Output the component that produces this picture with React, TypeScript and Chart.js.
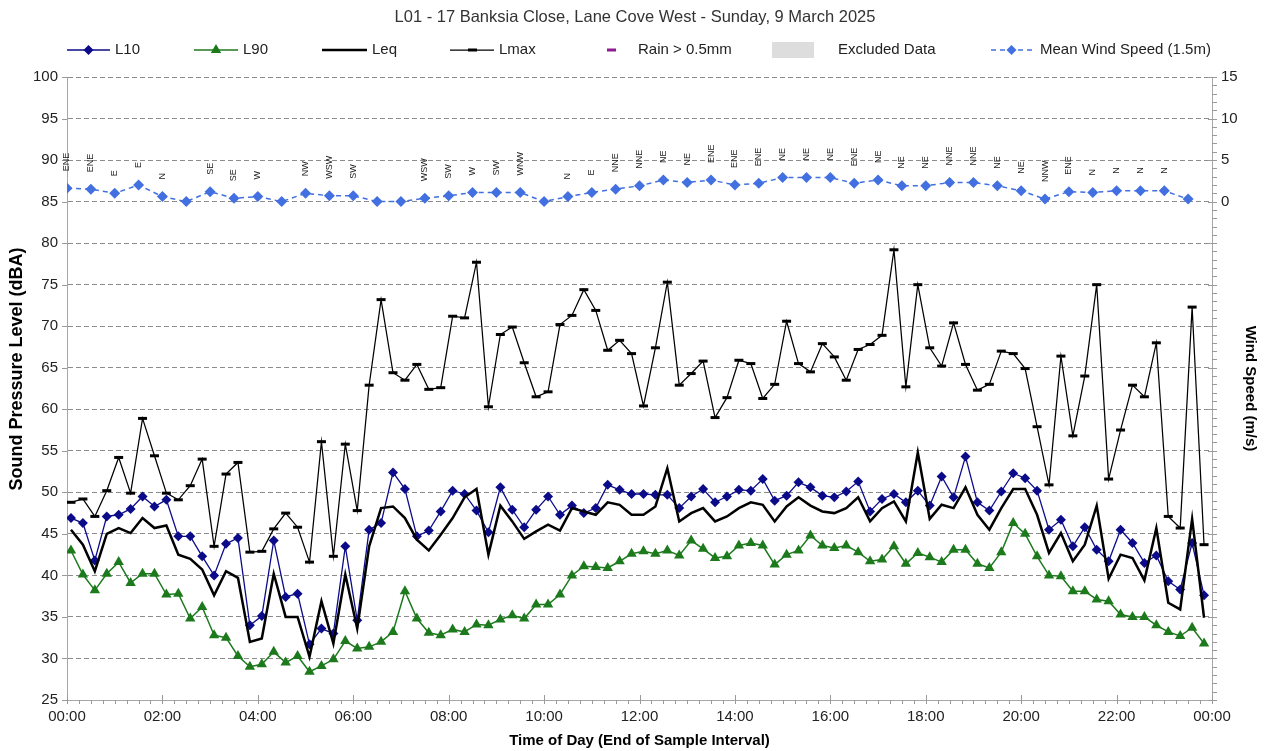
import React, { useEffect, useRef } from "react";
import { Chart, registerables } from "chart.js";

Chart.register(...registerables);

const FONT = "'Liberation Sans', Arial, Helvetica, sans-serif";

const chartTitle = "L01 - 17 Banksia Close, Lane Cove West - Sunday, 9 March 2025";
const yTitle = "Sound Pressure Level (dBA)";
const xTickLabels = ["00:00", "02:00", "04:00", "06:00", "08:00", "10:00", "12:00", "14:00", "16:00", "18:00", "20:00", "22:00", "00:00"];

// 15-minute sound level samples (dBA)
const L10 = [
  46.9, 46.3, 41.8, 47.1, 47.3, 48.0, 49.5, 48.3, 49.1, 44.7, 44.7, 42.3, 40.0, 43.8, 44.5, 34.0,
  35.1, 44.2, 37.4, 37.8, 31.7, 33.6, 33.0, 43.5, 34.6, 45.5, 46.3, 52.4, 50.4, 44.7, 45.4, 47.7,
  50.2, 49.8, 47.8, 45.2, 50.6, 47.9, 45.8, 47.9, 49.5, 47.3, 48.4, 47.5, 48.1, 50.9, 50.3, 49.8,
  49.8, 49.7, 49.7, 48.1, 49.5, 50.4, 48.8, 49.5, 50.3, 50.2, 51.6, 49.0, 49.6, 51.2, 50.6, 49.6,
  49.4, 50.1, 51.3, 47.7, 49.2, 49.8, 48.8, 50.2, 48.4, 51.9, 49.4, 54.3, 48.8, 47.8, 50.1, 52.3,
  51.7, 50.2, 45.5, 46.7, 43.5, 45.8, 43.1, 41.7, 45.5, 43.9, 41.5, 42.4, 39.3, 38.3, 43.9, 37.6,
];
const L90 = [
  43.0, 40.1, 38.2, 40.2, 41.6, 39.1, 40.2, 40.2, 37.7, 37.8, 34.8, 36.2, 32.8, 32.5, 30.3, 29.0,
  29.3, 30.8, 29.5, 30.3, 28.4, 29.1, 29.9, 32.1, 31.2, 31.4, 32.0, 33.2, 38.1, 34.8, 33.1, 32.8,
  33.5, 33.2, 34.1, 34.0, 34.7, 35.2, 34.8, 36.5, 36.5, 37.7, 40.0, 41.1, 41.0, 40.9, 41.7, 42.6,
  42.9, 42.6, 43.0, 42.4, 44.2, 43.2, 42.1, 42.3, 43.6, 43.9, 43.6, 41.3, 42.5, 43.0, 44.8, 43.6,
  43.3, 43.6, 42.8, 41.7, 41.9, 43.5, 41.4, 42.7, 42.2, 41.6, 43.1, 43.1, 41.4, 40.9, 42.8, 46.3,
  45.0, 42.3, 40.0, 39.9, 38.1, 38.1, 37.1, 36.9, 35.3, 35.0, 35.0, 34.0, 33.2, 32.7, 33.7, 31.8,
];
const Leq = [
  45.5, 43.7, 40.5, 45.0, 45.7, 45.1, 46.9, 45.7, 46.0, 42.5, 42.0, 40.7, 37.6, 40.5, 39.7, 32.0,
  32.4, 40.2, 35.0, 35.0, 30.2, 36.9, 31.8, 40.1, 33.6, 43.5, 48.1, 48.3, 46.9, 44.3, 43.0, 44.9,
  46.9, 49.4, 50.4, 42.5, 48.4, 46.5, 44.4, 45.3, 46.1, 45.4, 48.1, 47.7, 47.3, 48.8, 48.5, 47.3,
  47.3, 48.3, 52.9, 46.5, 47.5, 48.1, 46.5, 47.1, 48.1, 48.8, 48.5, 46.5, 48.3, 49.4, 48.4, 47.7,
  47.5, 48.1, 49.4, 46.5, 48.1, 48.9, 46.5, 54.8, 46.8, 48.5, 48.1, 50.6, 47.3, 45.5, 48.1, 50.4,
  50.4, 47.3, 42.7, 45.1, 41.7, 43.7, 48.4, 39.6, 42.5, 42.1, 39.4, 45.7, 36.7, 35.9, 46.8, 34.9,
];
const Lmax = [
  48.8, 49.2, 47.1, 50.2, 54.2, 49.9, 58.9, 54.4, 49.9, 49.1, 50.8, 54.0, 43.5, 52.2, 53.6, 42.8,
  42.9, 45.6, 47.5, 45.8, 41.6, 56.1, 42.3, 55.8, 47.8, 62.9, 73.2, 64.4, 63.5, 65.4, 62.4, 62.6,
  71.2, 71.0, 77.7, 60.3, 69.0, 69.9, 65.6, 61.5, 62.1, 70.2, 71.3, 74.4, 71.9, 67.1, 68.3, 66.7,
  60.4, 67.4, 75.3, 62.9, 64.3, 65.8, 59.0, 61.4, 65.9, 65.5, 61.3, 63.0, 70.6, 65.5, 64.5, 67.9,
  66.3, 63.5, 67.2, 67.8, 68.9, 79.2, 62.7, 75.0, 67.4, 65.2, 70.4, 65.4, 62.3, 63.0, 67.0, 66.7,
  64.9, 57.9, 50.9, 66.4, 56.8, 64.0, 75.0, 51.6, 57.5, 62.9, 61.5, 68.0, 47.1, 45.7, 72.3, 43.7,
];

// 30-minute mean wind speed (m/s) and direction
const windSpeed = [
  1.6, 1.5, 1.0, 2.0, 0.6, 0.0, 1.2, 0.4, 0.6, 0.0, 1.0, 0.7, 0.7, 0.0, 0.0, 0.4,
  0.7, 1.1, 1.1, 1.1, 0.0, 0.6, 1.1, 1.5, 1.9, 2.6, 2.3, 2.6, 2.0, 2.2, 2.9, 2.9,
  2.9, 2.2, 2.6, 1.9, 1.9, 2.3, 2.3, 1.9, 1.3, 0.3, 1.2, 1.1, 1.3, 1.3, 1.3, 0.3,
];
const windDir = [
  "ENE", "ENE", "E", "E", "N", "", "SE", "SE", "W", "", "NW", "WSW", "SW", "", "", "WSW",
  "SW", "W", "SW", "WNW", "", "N", "E", "NNE", "NNE", "NE", "NE", "ENE", "ENE", "ENE", "NE", "NE",
  "NE", "ENE", "NE", "NE", "NE", "NNE", "NNE", "NE", "NE", "NNW", "ENE", "N", "N", "N", "N", "",
];

const SOUND_STEP_MIN = 15;
const SOUND_OFFSET_MIN = 5;
const WIND_STEP_MIN = 30;

const NAVY = "#0b0b8a";
const GREEN = "#1c7a1c";
const BLACK = "#000000";
const WIND = "#4270e0";
const PURPLE = "#8e1b8e";
const TEXT = "#222222";

function drawDiamond(ctx: CanvasRenderingContext2D, x: number, y: number, r: number, color: string) {
  ctx.beginPath();
  ctx.moveTo(x, y - r);
  ctx.lineTo(x + r, y);
  ctx.lineTo(x, y + r);
  ctx.lineTo(x - r, y);
  ctx.closePath();
  ctx.fillStyle = color;
  ctx.fill();
}

function drawTriangle(ctx: CanvasRenderingContext2D, x: number, y: number, r: number, color: string) {
  ctx.beginPath();
  ctx.moveTo(x, y - r);
  ctx.lineTo(x + r * 0.866, y + r * 0.5);
  ctx.lineTo(x - r * 0.866, y + r * 0.5);
  ctx.closePath();
  ctx.fillStyle = color;
  ctx.fill();
}

function seg(ctx: CanvasRenderingContext2D, x1: number, x2: number, y: number, color: string, w: number, dash: number[] = []) {
  ctx.save();
  ctx.beginPath();
  ctx.setLineDash(dash);
  ctx.strokeStyle = color;
  ctx.lineWidth = w;
  ctx.moveTo(x1, y);
  ctx.lineTo(x2, y);
  ctx.stroke();
  ctx.restore();
}

function drawLegend(ctx: CanvasRenderingContext2D) {
  const yc = 50;
  ctx.save();
  ctx.font = `15px ${FONT}`;
  ctx.textAlign = "left";
  ctx.textBaseline = "middle";
  const label = (t: string, x: number) => {
    ctx.fillStyle = TEXT;
    ctx.fillText(t, x, yc);
  };
  seg(ctx, 67, 110, yc, NAVY, 1.5);
  drawDiamond(ctx, 88.5, yc, 5, NAVY);
  label("L10", 115);

  seg(ctx, 194, 238, yc, GREEN, 1.5);
  drawTriangle(ctx, 216, yc, 6, GREEN);
  label("L90", 243);

  seg(ctx, 322, 367, yc, BLACK, 2.5);
  label("Leq", 372);

  seg(ctx, 450, 494, yc, BLACK, 1.25);
  seg(ctx, 468, 477, yc, BLACK, 3);
  label("Lmax", 499);

  seg(ctx, 607, 616, yc, PURPLE, 3);
  label("Rain > 0.5mm", 638);

  ctx.fillStyle = "#dddddd";
  ctx.fillRect(772, 42, 42, 16);
  label("Excluded Data", 838);

  seg(ctx, 991, 1032, yc, WIND, 1.5, [5, 4]);
  drawDiamond(ctx, 1011.5, yc, 5, WIND);
  label("Mean Wind Speed (1.5m)", 1040);
  ctx.restore();
}

const decorPlugin = {
  id: "decor",
  beforeDraw(chart: any) {
    const { ctx, width, height } = chart;
    ctx.save();
    ctx.fillStyle = "#ffffff";
    ctx.fillRect(0, 0, width, height);
    ctx.restore();
  },
  afterDraw(chart: any) {
    const ctx: CanvasRenderingContext2D = chart.ctx;
    const x = chart.scales.x;
    const y = chart.scales.y;
    const y2 = chart.scales.y2;
    const area = chart.chartArea;
    ctx.save();

    // chart title
    ctx.fillStyle = "#333333";
    ctx.font = `16.5px ${FONT}`;
    ctx.textAlign = "center";
    ctx.textBaseline = "middle";
    ctx.fillText(chartTitle, 635, 17);

    // left axis title
    ctx.save();
    ctx.fillStyle = "#000";
    ctx.font = `bold 18px ${FONT}`;
    ctx.translate(17, 369);
    ctx.rotate(-Math.PI / 2);
    ctx.textAlign = "center";
    ctx.textBaseline = "middle";
    ctx.fillText(yTitle, 0, 0);
    ctx.restore();

    // tick marks
    ctx.strokeStyle = "#9a9a9a";
    ctx.lineWidth = 1;
    ctx.beginPath();
    for (let m = 0; m <= 1440; m += SOUND_STEP_MIN) {
      const px = Math.round(x.getPixelForValue(m)) + 0.5;
      const major = m % 120 === 0;
      ctx.moveTo(px, area.bottom - (major ? 5 : 0));
      ctx.lineTo(px, area.bottom + 4);
    }
    for (let v = 25; v <= 100; v += 5) {
      const py = Math.round(y.getPixelForValue(v)) + 0.5;
      ctx.moveTo(area.left - 5, py);
      ctx.lineTo(area.left, py);
    }
    for (let v = -60; v <= 15; v += 1) {
      const py = Math.round(y2.getPixelForValue(v)) + 0.5;
      const major = v % 5 === 0;
      ctx.moveTo(area.right - (major ? 4 : 0), py);
      ctx.lineTo(area.right + 5, py);
    }
    ctx.stroke();

    // wind direction labels
    const meta = chart.getDatasetMeta(4);
    ctx.fillStyle = TEXT;
    ctx.font = `9px ${FONT}`;
    ctx.textAlign = "left";
    ctx.textBaseline = "middle";
    meta.data.forEach((pt: any, i: number) => {
      const d = windDir[i];
      if (!d) return;
      ctx.save();
      ctx.translate(pt.x, pt.y - 17);
      ctx.rotate(-Math.PI / 2);
      ctx.fillText(d, 0, 0);
      ctx.restore();
    });

    drawLegend(ctx);
    ctx.restore();
  },
};

export default function App() {
  const ref = useRef<HTMLCanvasElement>(null);

  useEffect(() => {
    if (!ref.current) return;
    const sound = (arr: number[]) => arr.map((v, i) => ({ x: SOUND_OFFSET_MIN + SOUND_STEP_MIN * i, y: v }));
    const wind = windSpeed.map((v, i) => ({ x: WIND_STEP_MIN * i, y: v }));
    const tickFont = { family: FONT, size: 15 };
    const titleFont = { family: FONT, size: 15, weight: "bold" as const };

    const chart = new Chart(ref.current, {
      type: "line",
      data: {
        datasets: [
          {
            label: "L10",
            data: sound(L10),
            borderColor: NAVY,
            backgroundColor: NAVY,
            borderWidth: 1.3,
            pointStyle: "rectRot",
            pointRadius: 5,
            pointBorderWidth: 0,
            yAxisID: "y",
            order: 5,
          },
          {
            label: "L90",
            data: sound(L90),
            borderColor: GREEN,
            backgroundColor: GREEN,
            borderWidth: 1.5,
            pointStyle: "triangle",
            pointRadius: 6,
            pointBorderWidth: 0,
            yAxisID: "y",
            order: 4,
          },
          {
            label: "Leq",
            data: sound(Leq),
            borderColor: BLACK,
            backgroundColor: BLACK,
            borderWidth: 2.5,
            pointRadius: 0,
            yAxisID: "y",
            order: 3,
          },
          {
            label: "Lmax",
            data: sound(Lmax),
            borderColor: BLACK,
            backgroundColor: BLACK,
            borderWidth: 1.25,
            pointStyle: "line",
            pointRadius: 4.5,
            pointBorderWidth: 3,
            pointBorderColor: BLACK,
            yAxisID: "y",
            order: 2,
          },
          {
            label: "Mean Wind Speed (1.5m)",
            data: wind,
            borderColor: WIND,
            backgroundColor: WIND,
            borderWidth: 1.5,
            borderDash: [5, 4],
            pointStyle: "rectRot",
            pointRadius: 5.5,
            pointBorderWidth: 0,
            yAxisID: "y2",
            order: 1,
          },
        ],
      },
      options: {
        animation: false,
        responsive: false,
        devicePixelRatio: 1,
        layout: { padding: { top: 77, left: 0, right: 0, bottom: 0 } },
        plugins: {
          legend: { display: false },
          title: { display: false },
          tooltip: { enabled: false },
        },
        scales: {
          x: {
            type: "linear",
            min: 0,
            max: 1440,
            afterFit: (s: any) => {
              s.height = 51;
            },
            ticks: {
              stepSize: SOUND_STEP_MIN,
              autoSkip: false,
              maxRotation: 0,
              minRotation: 0,
              padding: 8,
              color: TEXT,
              font: tickFont,
              callback: (v: any) => (Number(v) % 120 === 0 ? xTickLabels[Number(v) / 120] : ""),
            },
            grid: { display: false, drawTicks: false },
            border: { display: true, color: "#a6a6a6", width: 1 },
            title: {
              display: true,
              text: "Time of Day (End of Sample Interval)",
              color: "#000",
              font: titleFont,
              padding: { top: 0, bottom: 1 },
            },
          },
          y: {
            type: "linear",
            position: "left",
            min: 25,
            max: 100,
            afterFit: (s: any) => {
              s.width = 67;
            },
            ticks: { stepSize: 5, padding: 9, color: TEXT, font: tickFont },
            grid: {
              drawTicks: false,
              lineWidth: 1,
              color: (c: any) => (c.tick && c.tick.value === 25 ? "rgba(0,0,0,0)" : "#8c8c8c"),
            },
            border: { display: true, color: "#a6a6a6", width: 1, dash: [5, 3] },
            title: { display: false },
          },
          y2: {
            type: "linear",
            position: "right",
            min: -60,
            max: 15,
            afterFit: (s: any) => {
              s.width = 58;
            },
            ticks: {
              stepSize: 5,
              padding: 9,
              color: TEXT,
              font: tickFont,
              callback: (v: any) => (Number(v) >= 0 ? String(v) : ""),
            },
            grid: { display: false, drawTicks: false },
            border: { display: true, color: "#a6a6a6", width: 1 },
            title: {
              display: true,
              text: "Wind Speed (m/s)",
              color: "#000",
              font: titleFont,
              padding: { top: 11, bottom: 0 },
            },
          },
        },
      },
      plugins: [decorPlugin],
    });
    return () => chart.destroy();
  }, []);

  return (
    <div style={{ position: "absolute", left: 0, top: 0, width: 1270, height: 751, background: "#fff" }}>
      <canvas ref={ref} width={1270} height={751} style={{ display: "block" }} />
    </div>
  );
}
